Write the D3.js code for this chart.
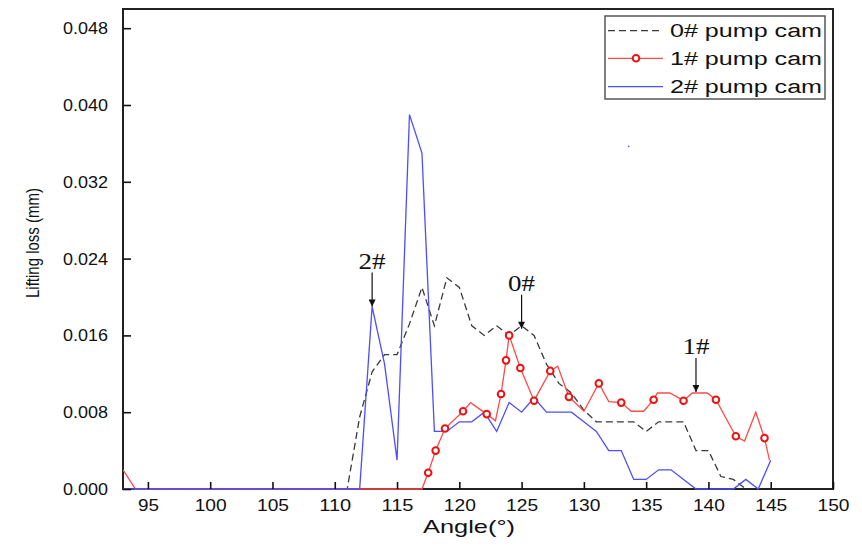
<!DOCTYPE html>
<html>
<head>
<meta charset="utf-8">
<script src="https://cdn.jsdelivr.net/npm/d3@7"></script>
<style>
  body { margin: 0; background: #fff; }
  text { font-family: "Liberation Sans", Arial, sans-serif; }
</style>
</head>
<body>
<div id="chart"></div>
<script>
// 0# pump cam, one value per degree
const cam0Angles = d3.range(93, 144);
const cam0Values = [
  0, 0, 0, 0, 0, 0, 0, 0, 0, 0, 0, 0, 0, 0, 0, 0, 0, 0, // 93-110
  0, 0.0075, 0.0122, 0.014, 0.014, 0.0172, 0.021, 0.017, 0.022, 0.021, // 111-120
  0.017, 0.016, 0.017, 0.016, 0.017, 0.016, 0.013, 0.011, 0.010, 0.0082, // 121-130
  0.007, 0.007, 0.007, 0.007, 0.006, 0.007, 0.007, 0.007, 0.004, 0.004, // 131-140
  0.0013, 0.001, 0 // 141-143
];

// 1# pump cam, irregular sampling; marked = drawn with a circle
const cam1Angles = [93, 94, 117, 117.5, 118.1, 118.85, 120.3, 120.9, 122.2, 122.9, 123.35, 123.75, 124,
  124.9, 126, 127.3, 127.9, 128.8, 130, 131.2, 132, 133, 133.8, 134.8, 135.6, 135.9, 136.9, 138, 138.7,
  139.9, 140.6, 142.2, 142.9, 143.8, 144.5, 144.9];
const cam1Values = [0.002, 0, 0, 0.0017, 0.004, 0.0063, 0.0081, 0.009, 0.0078, 0.0071, 0.0099, 0.0134, 0.016,
  0.0126, 0.0092, 0.0123, 0.0128, 0.0096, 0.0081, 0.011, 0.0091, 0.009, 0.0081, 0.0081, 0.0093, 0.010, 0.010,
  0.0092, 0.010, 0.010, 0.0093, 0.0055, 0.005, 0.008, 0.0053, 0.003];
const cam1Marked = [0, 0, 0, 1, 1, 1, 1, 0, 1, 0, 1, 1, 1,
  1, 1, 1, 0, 1, 0, 1, 0, 1, 0, 0, 1, 0, 0,
  1, 0, 0, 1, 1, 0, 0, 1, 0];

// 2# pump cam, one value per degree
const cam2Angles = d3.range(93, 146);
const cam2Values = [
  0, 0, 0, 0, 0, 0, 0, 0, 0, 0, 0, 0, 0, 0, 0, 0, 0, 0, // 93-110
  0, 0, 0.019, 0.013, 0.003, 0.039, 0.035, 0.006, 0.006, 0.007, // 111-120
  0.007, 0.008, 0.006, 0.009, 0.008, 0.0095, 0.008, 0.008, 0.008, 0.007, // 121-130
  0.006, 0.004, 0.004, 0.001, 0.001, 0.002, 0.002, 0.001, 0, 0, // 131-140
  0, 0, 0.001, 0, 0.003 // 141-145
];

const seriesNames = ['0# pump cam', '1# pump cam', '2# pump cam'];
const xTicks = d3.range(95, 151, 5);
const yTicks = [0, 0.008, 0.016, 0.024, 0.032, 0.040, 0.048];

// arrow annotations: label, angle, value at arrow tip
const noteLabels = ['2#', '0#', '1#'];
const noteAngles = [113, 125, 139];
const noteValues = [0.019, 0.0167, 0.0101];

// stray speck in the original plot
const speckAngle = [133.6];
const speckValue = [0.0357];

const w = 862, h = 549;
const m = { left: 123, right: 833, top: 9, bottom: 489 };

const svg = d3.select('#chart').append('svg')
  .attr('width', w)
  .attr('height', h);

const xScale = d3.scaleLinear().domain([93, 150]).range([m.left, m.right]);
const yScale = d3.scaleLinear().domain([0, 0.05]).range([m.bottom, m.top]);

const line = d3.line()
  .x(d => xScale(d[0]))
  .y(d => yScale(d[1]));

const defs = svg.append('defs');
defs.append('clipPath').attr('id', 'plot-clip')
  .append('rect')
  .attr('x', m.left).attr('y', m.top - 2)
  .attr('width', m.right - m.left).attr('height', m.bottom - m.top + 3);

// frame first, so the zero-level lines sit on top of the axis
svg.append('rect')
  .attr('x', m.left)
  .attr('y', m.top)
  .attr('width', m.right - m.left)
  .attr('height', m.bottom - m.top)
  .attr('fill', 'none')
  .attr('stroke', '#222')
  .attr('stroke-width', 2);

const plot = svg.append('g').attr('clip-path', 'url(#plot-clip)');

const cam0 = cam0Angles.map((a, i) => [a, cam0Values[i]]);
const cam1 = cam1Angles.map((a, i) => [a, cam1Values[i]]);
const cam2 = cam2Angles.map((a, i) => [a, cam2Values[i]]);

plot.append('path')
  .datum(cam0)
  .attr('d', line)
  .attr('fill', 'none')
  .attr('stroke', '#3a3a3a')
  .attr('stroke-width', 1.3)
  .attr('stroke-dasharray', '7,4');

plot.append('path')
  .datum(cam1)
  .attr('d', line)
  .attr('fill', 'none')
  .attr('stroke', '#ff4a4a')
  .attr('stroke-width', 1.3);

plot.append('path')
  .datum(cam2)
  .attr('d', line)
  .attr('fill', 'none')
  .attr('stroke', '#4d4dff')
  .attr('stroke-width', 1.3);

plot.selectAll('circle.m1')
  .data(cam1.filter((d, i) => cam1Marked[i]))
  .enter()
  .append('circle')
  .attr('class', 'm1')
  .attr('cx', d => xScale(d[0]))
  .attr('cy', d => yScale(d[1]))
  .attr('r', 3.3)
  .attr('fill', '#fff')
  .attr('stroke', '#ee1111')
  .attr('stroke-width', 2);

plot.selectAll('circle.speck')
  .data(speckAngle)
  .enter()
  .append('circle')
  .attr('class', 'speck')
  .attr('cx', d => xScale(d))
  .attr('cy', (d, i) => yScale(speckValue[i]))
  .attr('r', 0.9)
  .attr('fill', '#6060ff');

// axes with inward ticks
const xAxis = d3.axisBottom(xScale)
  .tickValues(xTicks)
  .tickSizeInner(-7)
  .tickSizeOuter(0)
  .tickPadding(10)
  .tickFormat(d3.format('d'));

const yAxis = d3.axisLeft(yScale)
  .tickValues(yTicks)
  .tickSizeInner(-8)
  .tickSizeOuter(0)
  .tickPadding(15)
  .tickFormat(d3.format('.3f'));

const gx = svg.append('g')
  .attr('transform', `translate(0, ${m.bottom})`)
  .call(xAxis);
const gy = svg.append('g')
  .attr('transform', `translate(${m.left}, 0)`)
  .call(yAxis);

[gx, gy].forEach(g => {
  g.select('.domain').remove();
  g.selectAll('.tick line').attr('stroke', '#111').attr('stroke-width', 1.6);
  g.selectAll('.tick text')
    .attr('fill', '#111')
    .style('font-size', '17px')
    .style('font-family', '"Liberation Sans", Arial, sans-serif');
});
gy.selectAll('.tick text')
  .attr('textLength', 45)
  .attr('lengthAdjust', 'spacingAndGlyphs');
gx.selectAll('.tick text')
  .attr('textLength', d => d < 100 ? 21 : 32)
  .attr('lengthAdjust', 'spacingAndGlyphs');

// axis titles
svg.append('text')
  .attr('x', 469)
  .attr('y', 533)
  .attr('text-anchor', 'middle')
  .attr('textLength', 92)
  .attr('lengthAdjust', 'spacingAndGlyphs')
  .style('font-size', '19px')
  .attr('fill', '#111')
  .text('Angle(°)');

// rotated title squeezed along its length, like the source image
svg.append('text')
  .attr('transform', 'translate(39, 243) rotate(-90) scale(0.79, 1)')
  .attr('text-anchor', 'middle')
  .style('font-size', '19px')
  .attr('fill', '#111')
  .text('Lifting loss (mm)');

// arrow annotations
defs.append('marker')
  .attr('id', 'arrowhead')
  .attr('viewBox', '0 0 10 10')
  .attr('refX', 10)
  .attr('refY', 5)
  .attr('markerWidth', 13)
  .attr('markerHeight', 7)
  .attr('markerUnits', 'userSpaceOnUse')
  .attr('orient', 'auto')
  .append('path')
  .attr('d', 'M0,0 L10,5 L0,10 Z')
  .attr('fill', '#111');

const notes = svg.append('g');
noteLabels.forEach((label, i) => {
  const nx = xScale(noteAngles[i]);
  const ny = yScale(noteValues[i]);
  notes.append('line')
    .attr('x1', nx).attr('y1', ny - 34)
    .attr('x2', nx).attr('y2', ny)
    .attr('stroke', '#111')
    .attr('stroke-width', 1.2)
    .attr('marker-end', 'url(#arrowhead)');
  notes.append('text')
    .attr('x', nx)
    .attr('y', ny - 38)
    .attr('text-anchor', 'middle')
    .attr('textLength', 27)
    .attr('lengthAdjust', 'spacingAndGlyphs')
    .style('font-family', '"Liberation Serif", "Times New Roman", serif')
    .style('font-size', '23px')
    .attr('fill', '#111')
    .text(label);
});

// legend
const legend = svg.append('g');
legend.append('rect')
  .attr('x', 605).attr('y', 16)
  .attr('width', 220).attr('height', 83)
  .attr('fill', '#fff')
  .attr('stroke', '#555')
  .attr('stroke-width', 1.5);

const legendRows = [30.7, 58.3, 86.7];
const legendStroke = ['#3a3a3a', '#ff4a4a', '#4d4dff'];
seriesNames.forEach((name, i) => {
  const ly = legendRows[i];
  legend.append('line')
    .attr('x1', 608).attr('x2', 663)
    .attr('y1', ly).attr('y2', ly)
    .attr('stroke', legendStroke[i])
    .attr('stroke-width', 1.3)
    .attr('stroke-dasharray', i === 0 ? '7,4' : null);
  if (i === 1) {
    legend.append('circle')
      .attr('cx', 636).attr('cy', ly)
      .attr('r', 3.3)
      .attr('fill', '#fff')
      .attr('stroke', '#ee1111')
      .attr('stroke-width', 2);
  }
  legend.append('text')
    .attr('x', 670)
    .attr('y', ly + 6.5)
    .attr('textLength', 152)
    .attr('lengthAdjust', 'spacingAndGlyphs')
    .style('font-size', '18px')
    .attr('fill', '#111')
    .text(name);
});
</script>
</body>
</html>
